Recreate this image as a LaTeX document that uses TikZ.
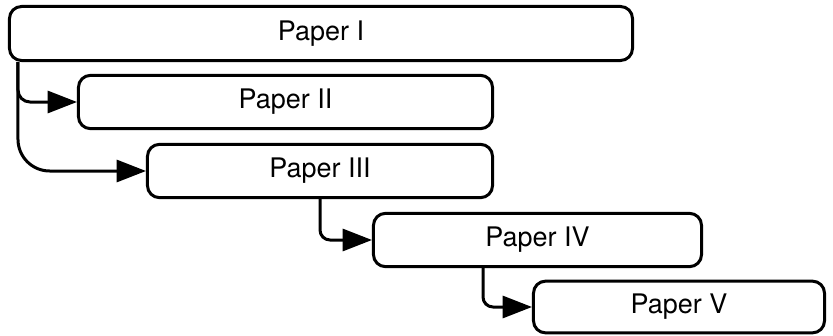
\documentclass[tikz,border=0pt]{standalone}
\usepackage{fontspec}
\setmainfont{TeX Gyre Heros}
\usetikzlibrary{arrows.meta}
\begin{document}
\begin{tikzpicture}[x=0.03cm,y=-0.03cm,paper/.style={shape=rectangle,draw=black,line width=0.09cm,rounded corners=0.36cm,inner sep=0pt,minimum height=1.6cm,font=\fontsize{23}{27}\selectfont},link/.style={line width=0.09cm,-{Triangle[length=0.88cm,width=0.66cm]}}]
\def\dh{0.3cm};
\def\dv{3.33cm};

\useasboundingbox (0,0) rectangle (833,336);

\node[paper,minimum width=18.69cm,minimum height=1.62cm] (P1) at (321,33.5) {Paper I};
\node[paper,minimum width=12.42cm] (P2) at (285.5,102) {Paper II};
\node[paper,minimum width=10.35cm] (P3) at (320,171) {Paper III};
\node[paper,minimum width=9.84cm] (P4) at (537.5,240) {Paper IV};
\node[paper,minimum width=8.73cm,minimum height=1.55cm] (P5) at (679,307) {Paper V};

\draw[link,rounded corners=0.36cm] ([xshift=\dh]P1.south west) |- (P2.west);
\draw[link,rounded corners=0.95cm] ([xshift=\dh]P1.south west) |- (P3.west);
\draw[link,rounded corners=0.3cm] (P3.south) |- (P4.west);
\draw[link,rounded corners=0.3cm] ([xshift=\dv]P4.south west) |- (P5.west);
\end{tikzpicture}
\end{document}
